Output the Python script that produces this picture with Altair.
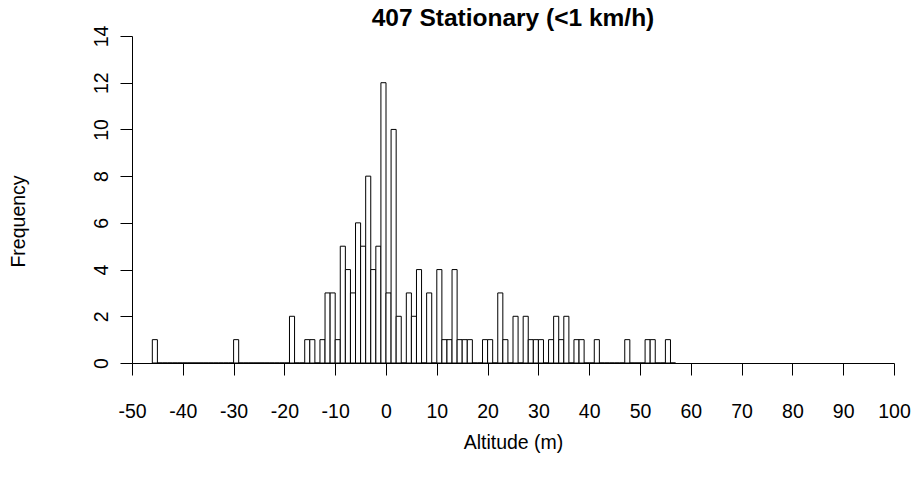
import altair as alt
import pandas as pd

# Left edge of each 1 m altitude bin
bin_start = [-46, -45, -44, -43, -42, -41, -40, -39, -38, -37, -36, -35, -34, -33, -32, -31,
             -30, -29, -28, -27, -26, -25, -24, -23, -22, -21, -20, -19, -18, -17, -16, -15,
             -14, -13, -12, -11, -10, -9, -8, -7, -6, -5, -4, -3, -2, -1, 0, 1, 2, 3, 4, 5,
             6, 7, 8, 9, 10, 11, 12, 13, 14, 15, 16, 17, 18, 19, 20, 21, 22, 23, 24, 25, 26,
             27, 28, 29, 30, 31, 32, 33, 34, 35, 36, 37, 38, 39, 40, 41, 42, 43, 44, 45, 46,
             47, 48, 49, 50, 51, 52, 53, 54, 55, 56]
bin_end = [-45, -44, -43, -42, -41, -40, -39, -38, -37, -36, -35, -34, -33, -32, -31, -30,
           -29, -28, -27, -26, -25, -24, -23, -22, -21, -20, -19, -18, -17, -16, -15, -14,
           -13, -12, -11, -10, -9, -8, -7, -6, -5, -4, -3, -2, -1, 0, 1, 2, 3, 4, 5, 6,
           7, 8, 9, 10, 11, 12, 13, 14, 15, 16, 17, 18, 19, 20, 21, 22, 23, 24, 25, 26, 27,
           28, 29, 30, 31, 32, 33, 34, 35, 36, 37, 38, 39, 40, 41, 42, 43, 44, 45, 46, 47,
           48, 49, 50, 51, 52, 53, 54, 55, 56, 57]
frequency = [1, 0, 0, 0, 0, 0, 0, 0, 0, 0, 0, 0, 0, 0, 0, 0,
             1, 0, 0, 0, 0, 0, 0, 0, 0, 0, 0, 2, 0, 0, 1, 1,
             0, 1, 3, 3, 1, 5, 4, 3, 6, 5, 8, 4, 5, 12, 3, 10, 2, 0, 3, 2,
             4, 0, 3, 0, 4, 1, 1, 4, 1, 1, 1, 0, 0, 1, 1, 0, 3, 1, 0, 2, 0,
             2, 1, 1, 1, 0, 1, 2, 1, 2, 0, 1, 1, 0, 0, 1, 0, 0, 0, 0, 0,
             1, 0, 0, 0, 1, 1, 0, 0, 1, 0]

x_ticks = [-50, -40, -30, -20, -10, 0, 10, 20, 30, 40, 50, 60, 70, 80, 90, 100]
y_ticks = [0, 2, 4, 6, 8, 10, 12, 14]

df = pd.DataFrame({"start": bin_start, "end": bin_end, "count": frequency})

FONT = "Liberation Sans"
common_axis = dict(grid=False, domainColor="black", domainWidth=1, tickColor="black",
                   tickWidth=1, tickSize=12, labelFont=FONT, labelFontSize=19.5,
                   labelColor="black", titleFont=FONT, titleFontSize=19.5,
                   titleFontWeight="normal", titleColor="black",
                   labelFlush=False, labelOverlap=False,
                   labelExpr="'' + datum.value")

chart = alt.Chart(df).mark_rect(fill="white", stroke="black", strokeWidth=1).encode(
    x=alt.X("start:Q",
            scale=alt.Scale(domain=[-50, 100], nice=False, zero=False),
            axis=alt.Axis(values=x_ticks, title="Altitude (m)", labelAngle=0,
                          labelBaseline="alphabetic", labelPadding=42,
                          titleY=79, titleBaseline="middle", titleX=381,
                          **common_axis)),
    x2="end:Q",
    y=alt.Y("count:Q",
            scale=alt.Scale(domain=[0, 14], nice=False),
            axis=alt.Axis(values=y_ticks, title="Frequency", labelAngle=270,
                          labelAlign="center", labelBaseline="alphabetic",
                          labelPadding=13,
                          titleAngle=270, titleX=-114, titleY=185,
                          titleAlign="center", titleBaseline="middle",
                          **common_axis)),
    y2=alt.datum(0),
).properties(
    width=762, height=327,
    title=alt.TitleParams("407 Stationary (<1 km/h)", font=FONT, fontSize=24.5,
                          fontWeight="bold", color="black", anchor="middle",
                          baseline="alphabetic", offset=8, dy=33),
    padding={"left": 132, "top": 36, "right": 18, "bottom": 115},
    autosize="none",
    background="white",
).configure_view(stroke=None)

chart.save("out.html", embed_options={"renderer": "svg", "actions": False})
